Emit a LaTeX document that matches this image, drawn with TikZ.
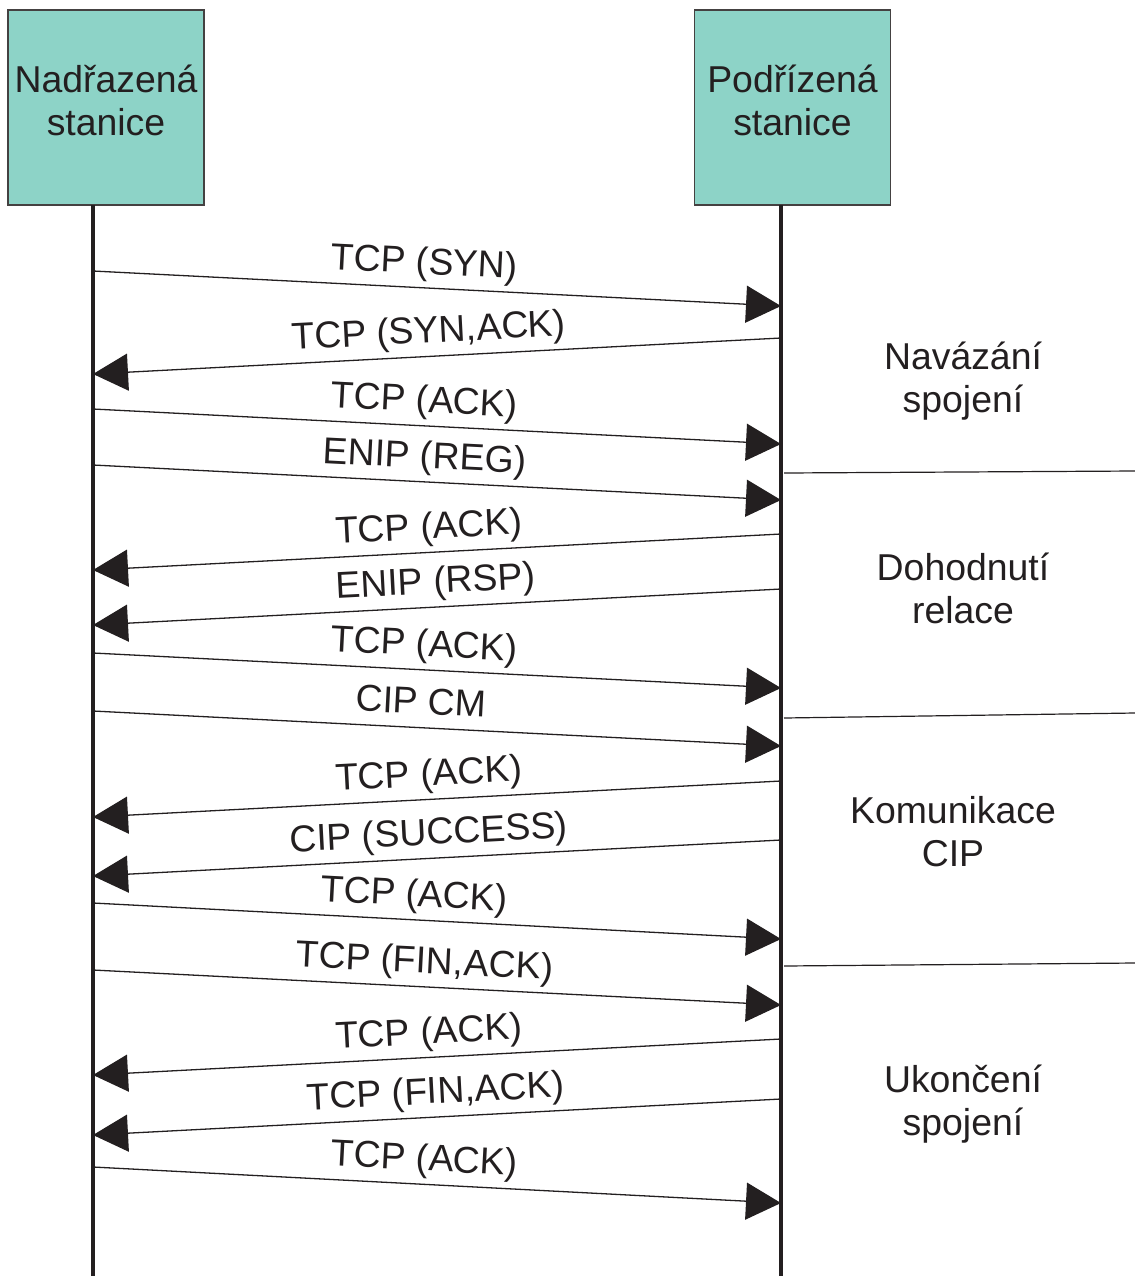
\documentclass[tikz,border=0pt]{standalone}
\usepackage{fontspec}
\setmainfont{Liberation Sans}
\usetikzlibrary{arrows.meta}
\definecolor{tyrkys}{HTML}{8DD3C7}
\definecolor{cerna}{HTML}{231F20}
\tikzset{
  stanice/.style={draw=cerna!85,fill=tyrkys,line width=0.7pt,minimum width=98pt,
    minimum height=97.5pt,align=center,inner sep=0pt,text depth=7pt,text=cerna},
  osa/.style={line width=1.9pt,cerna},
  zprava/.style={line width=0.65pt,cerna,-{Triangle[length=17.5pt,width=18.5pt]}},
  popis/.style={sloped,above,inner sep=4pt,text depth=0.25em,text=cerna},
  delic/.style={line width=0.6pt,cerna},
  faze/.style={align=center,text=cerna},
}

\begin{document}
\begin{tikzpicture}[x=0.5pt,y=-0.5pt,font=\fontsize{18.7}{21.5}\selectfont]
  \useasboundingbox (0,0) rectangle (1135,1276);
  % stanice a jejich casove osy
  \node[stanice] (nad) at (106,107.5) {Nadřazená\\ stanice};
  \node[stanice] (pod) at (792.5,107.5) {Podřízená\\ stanice};
  \coordinate (L0) at (93,205);  \coordinate (L1) at (93,1276);
  \coordinate (R0) at (781,205); \coordinate (R1) at (781,1276);
  \draw[osa] (L0) -- (L1);
  \draw[osa] (R0) -- (R1);
  % zpravy: odkud/y/kam/y/pozice popisu/text
  \foreach \od/\ya/\do/\yb/\p/\txt [count=\i] in {
      L/271/R/306/0.48/{TCP (SYN)},
      R/338/L/374/0.51/{TCP (SYN,ACK)},
      L/409/R/444/0.48/{TCP (ACK)},
      L/465/R/500/0.48/{ENIP (REG)},
      R/534/L/570/0.51/{TCP (ACK)},
      R/589/L/625/0.50/{ENIP (RSP)},
      L/653/R/688/0.48/{TCP (ACK)},
      L/711/R/746/0.475/{CIP CM},
      R/781/L/817/0.51/{TCP (ACK)},
      R/840/L/876/0.51/{CIP (SUCCESS)},
      L/903/R/939/0.465/{TCP (ACK)},
      L/970/R/1005/0.48/{TCP (FIN,ACK)},
      R/1039/L/1075/0.51/{TCP (ACK)},
      R/1099/L/1135/0.50/{TCP (FIN,ACK)},
      L/1167/R/1203/0.48/{TCP (ACK)}}{
    \coordinate (z\i) at (\od0 |- 0,\ya);
    \coordinate (k\i) at (\do0 |- 0,\yb);
    \draw[zprava] (z\i) -- node[popis,pos=\p] {\txt} (k\i);
  }
  % faze komunikace
  \draw[delic] (784,473) -- (1135,471);
  \draw[delic] (784,718) -- (1135,713);
  \draw[delic] (784,966) -- (1135,963);
  \node[faze] (f1) at (963,381) {Navázání\\ spojení};
  \node[faze] (f2) at (963,588) {Dohodnutí\\ relace};
  \node[faze] (f3) at (953,832) {Komunikace\\ CIP};
  \node[faze] (f4) at (963,1104) {Ukončení\\ spojení};
\end{tikzpicture}
\end{document}
